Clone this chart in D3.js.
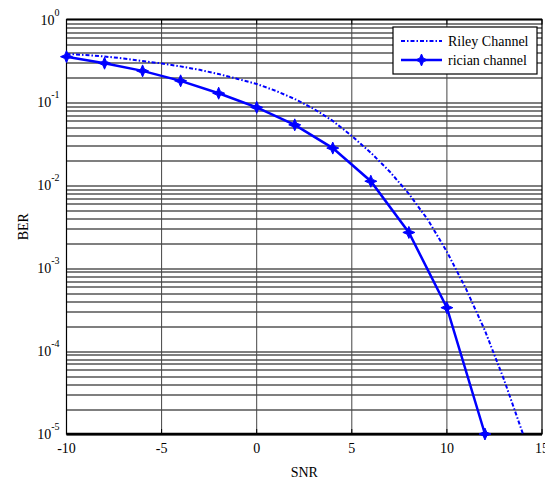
<!DOCTYPE html>
<html>
<head>
<meta charset="utf-8">
<script src="https://d3js.org/d3.v7.min.js"></script>
<style>
  body { margin: 0; background: #fff; }
  text { font-family: "Liberation Serif", "Times New Roman", serif; fill: #000; }
</style>
</head>
<body>
<div id="chart"></div>
<script>
// SNR values and BER readings
const rileySnr = d3.range(-10, 15, 1);
const rileyBer = [0.384, 0.373, 0.358, 0.339, 0.316, 0.295, 0.272, 0.247, 0.220, 0.192,
                  0.167, 0.138, 0.110, 0.0836, 0.0598, 0.0394, 0.0247, 0.0146, 0.0079,
                  0.00384, 0.00158, 5.66e-4, 1.77e-4, 4.54e-5, 1.0e-5];
const ricianSnr = [-10, -8, -6, -4, -2, 0, 2, 4, 6, 8, 10, 12];
const ricianBer = [0.356, 0.297, 0.240, 0.182, 0.129, 0.0871, 0.0536, 0.0281, 0.0112,
                   0.0027, 3.34e-4, 1.0e-5];
const xTicks = [-10, -5, 0, 5, 10, 15];
const yDecades = [0, -1, -2, -3, -4, -5];
const legendLabels = ["Riley Channel", "rician channel"];

const width = 545, height = 481;
const margin = { top: 19.5, right: 3, bottom: 47, left: 66.5 };
const innerW = width - margin.left - margin.right;
const innerH = height - margin.top - margin.bottom;

const svg = d3.select("#chart").append("svg")
    .attr("width", width)
    .attr("height", height);

const g = svg.append("g")
    .attr("transform", `translate(${margin.left},${margin.top})`);

const x = d3.scaleLinear().domain([-10, 15]).range([0, innerW]);
const y = d3.scaleLog().domain([1e-5, 1]).range([innerH, 0]);

// horizontal grid: every 1..9 in each decade
const yGrid = [];
for (let e = -5; e < 0; e++) {
    for (let m = 1; m <= 9; m++) yGrid.push(m * Math.pow(10, e));
}
g.append("g").selectAll("line")
    .data(yGrid)
    .join("line")
    .attr("x1", 0).attr("x2", innerW)
    .attr("y1", d => Math.round(y(d)) + 0.5).attr("y2", d => Math.round(y(d)) + 0.5)
    .attr("stroke", "#000")
    .attr("stroke-width", 1.2);

// vertical grid
g.append("g").selectAll("line")
    .data(xTicks.slice(1, -1))
    .join("line")
    .attr("x1", d => x(d)).attr("x2", d => x(d))
    .attr("y1", 0).attr("y2", innerH)
    .attr("stroke", "#444")
    .attr("stroke-width", 1);

// x tick marks (inward) and labels
const xt = g.append("g").selectAll("g")
    .data(xTicks)
    .join("g")
    .attr("transform", d => `translate(${x(d)},0)`);
xt.append("line").attr("y1", innerH).attr("y2", innerH - 5).attr("stroke", "#000");
xt.append("line").attr("y1", 0).attr("y2", 5).attr("stroke", "#000");
xt.append("text")
    .attr("y", innerH + 19)
    .attr("text-anchor", "middle")
    .style("font-size", "14px")
    .text(d => d);

// y tick labels with superscript
const yt = g.append("g").selectAll("text")
    .data(yDecades)
    .join("text")
    .attr("x", -7)
    .attr("y", d => y(Math.pow(10, d)) + 5)
    .attr("text-anchor", "end")
    .style("font-size", "14px");
yt.append("tspan").text("10");
yt.append("tspan")
    .attr("dy", -9)
    .style("font-size", "10px")
    .text(d => d);

// axis frame
g.append("rect")
    .attr("width", innerW).attr("height", innerH)
    .attr("fill", "none")
    .attr("stroke", "#000")
    .attr("stroke-width", 1.2);
g.append("line")
    .attr("x1", 0).attr("x2", innerW)
    .attr("y1", innerH).attr("y2", innerH)
    .attr("stroke", "#000").attr("stroke-width", 2.5);
g.append("line")
    .attr("x1", 0).attr("x2", innerW)
    .attr("y1", 0).attr("y2", 0)
    .attr("stroke", "#000").attr("stroke-width", 2);

const line = d3.line()
    .x(d => x(d[0]))
    .y(d => y(d[1]));

// Riley channel dash-dot
g.append("path")
    .datum(rileySnr.map((s, i) => [s, rileyBer[i]]))
    .attr("d", line)
    .attr("fill", "none")
    .attr("stroke", "#0000ff")
    .attr("stroke-width", 2)
    .attr("stroke-dasharray", "4,2,1.5,2");

// rician channel
const ricianPts = ricianSnr.map((s, i) => [s, ricianBer[i]]);
g.append("path")
    .datum(ricianPts)
    .attr("d", line)
    .attr("fill", "none")
    .attr("stroke", "#0000ff")
    .attr("stroke-width", 2.5);

const star = "M0,-6L1.8,-1.8L6,0L1.8,1.8L0,6L-1.8,1.8L-6,0L-1.8,-1.8Z";
g.append("g").selectAll("path")
    .data(ricianPts)
    .join("path")
    .attr("transform", d => `translate(${x(d[0])},${y(d[1])})`)
    .attr("d", star)
    .attr("fill", "#0000ff")
    .attr("stroke", "#0000ff")
    .attr("stroke-width", 1);

// axis titles
svg.append("text")
    .attr("x", margin.left + innerW / 2)
    .attr("y", 477)
    .attr("text-anchor", "middle")
    .style("font-size", "14px")
    .text("SNR");
svg.append("text")
    .attr("transform", `translate(28,${margin.top + innerH / 2}) rotate(-90)`)
    .attr("text-anchor", "middle")
    .style("font-size", "14px")
    .text("BER");

// legend
const legend = svg.append("g").attr("transform", "translate(393,27)");
legend.append("rect")
    .attr("width", 144).attr("height", 47)
    .attr("fill", "#fff")
    .attr("stroke", "#000")
    .attr("stroke-width", 1.2);
const items = legend.selectAll("g")
    .data(legendLabels)
    .join("g")
    .attr("transform", (d, i) => `translate(0,${14 + i * 19})`);
items.append("line")
    .attr("x1", 8).attr("x2", 49)
    .attr("stroke", "#0000ff")
    .attr("stroke-width", (d, i) => i === 0 ? 2 : 2.5)
    .attr("stroke-dasharray", (d, i) => i === 0 ? "4,2,1.5,2" : null);
items.filter((d, i) => i === 1).append("path")
    .attr("transform", "translate(28.5,0)")
    .attr("d", star)
    .attr("fill", "#0000ff")
    .attr("stroke", "#0000ff");
items.append("text")
    .attr("x", 55)
    .attr("y", 5)
    .style("font-size", "14px")
    .text(d => d);
</script>
</body>
</html>
